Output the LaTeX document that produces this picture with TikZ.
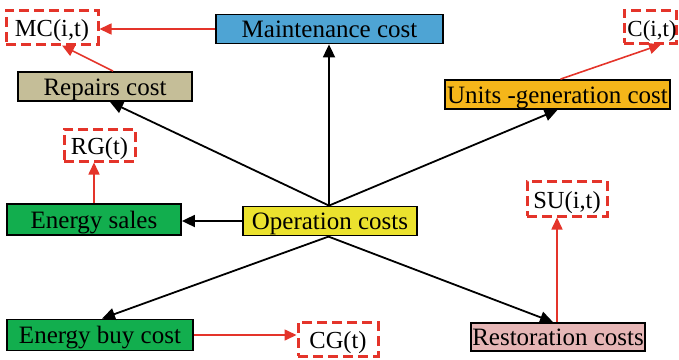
\documentclass[tikz,border=0pt]{standalone}
\usepackage{fontspec}
\setmainfont{Liberation Serif}
\usetikzlibrary{arrows.meta}
\definecolor{myred}{RGB}{228,52,42}
\definecolor{cblue}{RGB}{78,164,212}
\definecolor{ctan}{RGB}{197,190,152}
\definecolor{corange}{RGB}{245,182,26}
\definecolor{cgreen}{RGB}{18,174,78}
\definecolor{cyellow}{RGB}{235,226,46}
\definecolor{cpink}{RGB}{230,182,182}
\tikzset{
  box/.style={draw=black, line width=1.8pt, inner sep=0pt, minimum height=29pt,
    text height=20pt, text depth=3pt,
    font=\fontsize{25}{29}\selectfont},
  var/.style={draw=myred, line width=3pt, dash pattern=on 10pt off 5pt, inner sep=0pt,
    minimum height=33pt, text height=21pt, text depth=2pt,
    font=\fontsize{24.5}{28}\selectfont},
  blk/.style={draw=black, line width=1.8pt, -{Triangle[length=13pt,width=12pt]}},
  rda/.style={draw=myred, line width=1.6pt, -{Triangle[length=12pt,width=11pt]}},
}
\begin{document}
\begin{tikzpicture}[x=1pt,y=-1pt]
\useasboundingbox (0,0) rectangle (679,359);
\clip (0,0) rectangle (679,359);
\node[box, fill=cblue, minimum width=227pt] (maint) at (329.5,29) {Maintenance cost};
\node[var, minimum width=92pt, minimum height=34pt] (mc) at (52,27) {MC(i,t)};
\node[box, fill=ctan, minimum width=174pt] (repairs) at (105,86.5) {Repairs cost};
\node[var, minimum width=52pt, font=\fontsize{23}{27}\selectfont] (cit) at (650,26.5) {\hspace*{2pt}C(i,t)\hspace*{-2pt}};
\node[box, fill=corange, minimum width=225pt] (units) at (557.5,94.5) {Units -generation cost};
\node[var, minimum width=71pt, minimum height=32pt] (rg) at (99.5,145) {RG(t)};
\node[box, fill=cgreen, minimum width=174pt, minimum height=31pt] (sales) at (94,219.5) {Energy sales};
\node[box, fill=cyellow, minimum width=174pt] (op) at (330,221) {Operation costs};
\node[var, minimum width=80pt, minimum height=35pt] (su) at (567,198.5) {SU(i,t)};
\node[box, fill=cgreen, minimum width=186pt, minimum height=31pt] (buy) at (100,335) {Energy buy cost};
\node[var, minimum width=80pt, minimum height=34pt] (cg) at (338,339) {CG(t)};
\node[box, fill=cpink, minimum width=174pt, minimum height=28pt] (rest) at (558,337) {Restoration costs};

% black connectors
\draw[blk] ([xshift=-1pt]op.north) -- ([xshift=-0.5pt]maint.south);
\draw[blk] ([xshift=-1pt]op.north) -- ([xshift=5pt]repairs.south);
\draw[blk] ([xshift=-1pt]op.north) -- (units.south);
\draw[blk] (op.west) -- (op.west -| sales.east);
\draw[blk] ([xshift=-1pt]op.south) -- ([xshift=2pt]buy.north);
\draw[blk] ([xshift=-2pt]op.south) -- ([xshift=-5pt]rest.north);

% red connectors
\draw[rda] (maint.west) -- (maint.west -| mc.east);
\draw[rda] ([xshift=8pt]repairs.north) -- ([xshift=10pt]mc.south);
\draw[rda] ([xshift=3pt]units.north) -- ([xshift=11pt]cit.south);
\draw[rda] (sales.north) -- (sales.north |- rg.south);
\draw[rda] ([xshift=-1pt]rest.north) -- ([xshift=-1pt]rest.north |- su.south);
\draw[rda] (buy.east) -- (buy.east -| cg.west);
\end{tikzpicture}
\end{document}
